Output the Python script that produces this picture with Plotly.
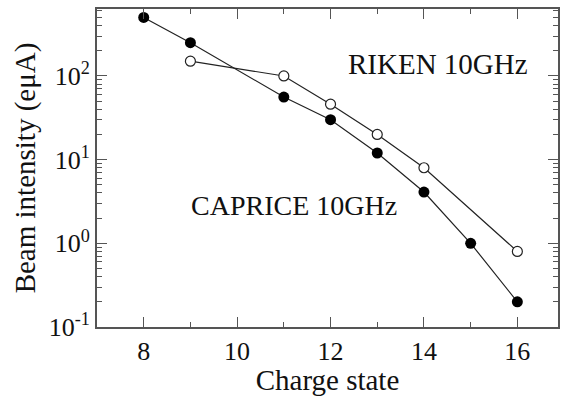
import plotly.graph_objects as go

charge_caprice = [8, 9, 11, 12, 13, 14, 15, 16]
intensity_caprice = [500, 250, 56, 30, 12, 4.1, 1.0, 0.2]

charge_riken = [9, 11, 12, 13, 14, 16]
intensity_riken = [150, 100, 46, 20, 8, 0.8]

x_ticks = [8, 10, 12, 14, 16]
y_tickvals = [0.1, 1, 10, 100]
y_ticktext = ["10<sup>-1</sup>", "10<sup>0</sup>", "10<sup>1</sup>", "10<sup>2</sup>"]

font = "Liberation Serif"
axcol = "#555555"

fig = go.Figure()
fig.add_trace(go.Scatter(
    x=charge_riken, y=intensity_riken, mode="lines+markers",
    line=dict(color="#222222", width=1.2),
    marker=dict(symbol="circle", size=10, color="white", line=dict(color="#222222", width=1.2)),
    showlegend=False))
fig.add_trace(go.Scatter(
    x=charge_caprice, y=intensity_caprice, mode="lines+markers",
    line=dict(color="#222222", width=1.2),
    marker=dict(symbol="circle", size=11, color="black"),
    showlegend=False))

# annotation y values are log10 on a log axis
fig.add_annotation(x=14.31, y=2.14, xref="x", yref="y", text="RIKEN 10GHz",
                   showarrow=False, font=dict(family=font, size=29, color="#111"))
fig.add_annotation(x=11.22, y=0.45, xref="x", yref="y", text="CAPRICE 10GHz",
                   showarrow=False, font=dict(family=font, size=28, color="#111"))

fig.update_layout(
    width=567, height=396,
    margin=dict(l=97, r=7, t=8, b=69),
    paper_bgcolor="white", plot_bgcolor="white",
    font=dict(family=font, size=26, color="#111"),
    xaxis=dict(range=[7, 16.87], tickvals=x_ticks, ticks="inside", ticklen=10,
               tickcolor=axcol, tickwidth=1.3, showline=True, linecolor=axcol, linewidth=2,
               mirror="allticks", showgrid=False, zeroline=False,
               minor=dict(tickvals=[9, 11, 13, 15], ticks="inside", ticklen=5, tickcolor=axcol, showgrid=False),
               title=dict(text="Charge state", font=dict(family=font, size=29, color="#111"), standoff=2),
               tickfont=dict(family=font, size=26, color="#111")),
    yaxis=dict(type="log", range=[-1, 2.8], tickvals=y_tickvals, ticktext=y_ticktext,
               ticks="inside", ticklen=10, tickcolor=axcol, tickwidth=1.3,
               showline=True, linecolor=axcol, linewidth=2, mirror="allticks",
               showgrid=False, zeroline=False,
               minor=dict(ticks="inside", ticklen=5, tickcolor=axcol, dtick="D1", showgrid=False),
               title=dict(text="Beam intensity (eμA)", font=dict(family=font, size=29, color="#111"), standoff=4),
               tickfont=dict(family=font, size=26, color="#111")),
)

fig.write_html("out.html")
